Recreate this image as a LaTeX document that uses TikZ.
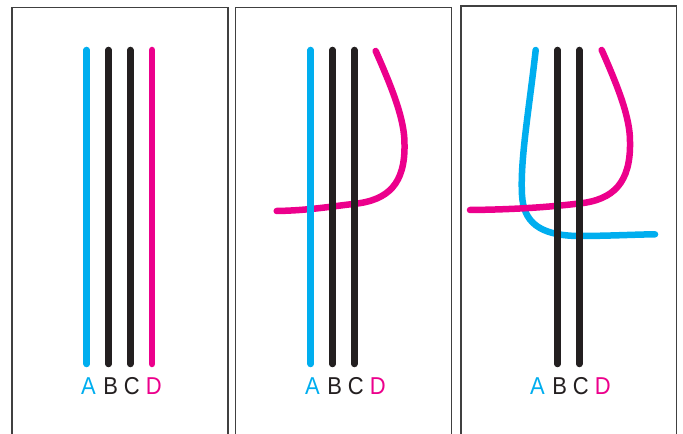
\documentclass[tikz,border=0pt]{standalone}
\usepackage{fontspec}
\setmainfont{Liberation Sans}
\definecolor{cyanA}{HTML}{00AEEF}
\definecolor{magD}{HTML}{EC008C}
\definecolor{blkB}{HTML}{231F20}
\definecolor{frameC}{HTML}{404040}
\begin{document}
\begin{tikzpicture}[x=1bp,y=-1bp,
  strand/.style={line width=6.5bp,line cap=round},
  frame/.style={draw=frameC,line width=1.1bp},
  lbl/.style={anchor=base,inner sep=0pt,font=\fontsize{24.5}{24.5}\selectfont}]
\useasboundingbox[fill=white] (0,0) rectangle (683,434);
\begin{scope}
\clip (0,0) rectangle (683,434);
% frames
\draw[frame] (12,440) -- (12,7.3) -- (228,7.3) -- (228,440);
\draw[frame] (235.7,440) -- (235.7,7.3) -- (451.7,7.3) -- (451.7,440);
\draw[frame] (461,440) -- (461,6) -- (676.5,6) -- (676.5,440);
\end{scope}

% ---------- panel 1 ----------
\begin{scope}
\coordinate (a1t) at (86.7,50); \coordinate (a1b) at (86.7,364);
\coordinate (b1t) at (108.5,50); \coordinate (b1b) at (108.5,364);
\coordinate (c1t) at (130.3,50); \coordinate (c1b) at (130.3,364);
\coordinate (d1t) at (152.1,50); \coordinate (d1b) at (152.1,364);
\draw[strand,cyanA] (a1t) -- (a1b);
\draw[strand,blkB] (b1t) -- (b1b);
\draw[strand,blkB] (c1t) -- (c1b);
\draw[strand,magD] (d1t) -- (d1b);
\node[lbl,cyanA] (la1) at (88.4,394.5) {\scalebox{0.9}[1]{A}};
\node[lbl,blkB] (lb1) at (110.8,394.5) {\scalebox{0.9}[1]{B}};
\node[lbl,blkB] (lc1) at (131.8,394.5) {\scalebox{0.9}[1]{C}};
\node[lbl,magD] (ld1) at (153.8,394.5) {\scalebox{0.9}[1]{D}};
\end{scope}

% ---------- panel 2 ----------
\begin{scope}[xshift=224bp]
\coordinate (d2t) at (151.7,51);
\coordinate (d2m) at (180.5,145);
\coordinate (d2n) at (129.3,204);
\coordinate (d2e) at (52.7,211);
\draw[strand,magD] (d2t) .. controls (168,88) and (181,120) .. (d2m)
  .. controls (181,183) and (165,200.5) .. (d2n)
  .. controls (110,206) and (85,210.5) .. (d2e);
\coordinate (a2t) at (86.7,50); \coordinate (a2b) at (86.7,364);
\coordinate (b2t) at (108.5,50); \coordinate (b2b) at (108.5,364);
\coordinate (c2t) at (130.3,50); \coordinate (c2b) at (130.3,364);
\draw[strand,cyanA] (a2t) -- (a2b);
\draw[strand,blkB] (b2t) -- (b2b);
\draw[strand,blkB] (c2t) -- (c2b);
\node[lbl,cyanA] (la2) at (88.4,394.5) {\scalebox{0.9}[1]{A}};
\node[lbl,blkB] (lb2) at (110.8,394.5) {\scalebox{0.9}[1]{B}};
\node[lbl,blkB] (lc2) at (131.8,394.5) {\scalebox{0.9}[1]{C}};
\node[lbl,magD] (ld2) at (153.8,394.5) {\scalebox{0.9}[1]{D}};
\end{scope}

% ---------- panel 3 ----------
\begin{scope}[xshift=449bp]
\coordinate (a3t) at (86.7,50);
\coordinate (a3m) at (73,195);
\coordinate (a3n) at (127.7,236);
\coordinate (a3e) at (206,234.3);
\draw[strand,cyanA] (a3t) .. controls (80,110) and (71,160) .. (a3m)
  .. controls (74.5,222) and (90,235) .. (a3n)
  .. controls (160,236) and (185,234.5) .. (a3e);
\coordinate (d3t) at (152.7,50);
\coordinate (d3m) at (181,143);
\coordinate (d3n) at (130,203.5);
\coordinate (d3e) at (21,210);
\draw[strand,magD] (d3t) .. controls (169,87) and (181.5,118) .. (d3m)
  .. controls (181.5,182) and (165,200) .. (d3n)
  .. controls (105,206.5) and (70,209.5) .. (d3e);
\coordinate (b3t) at (108.5,50); \coordinate (b3b) at (108.5,364);
\coordinate (c3t) at (130.3,50); \coordinate (c3b) at (130.3,364);
\draw[strand,blkB] (b3t) -- (b3b);
\draw[strand,blkB] (c3t) -- (c3b);
\node[lbl,cyanA] (la3) at (88.4,394.5) {\scalebox{0.9}[1]{A}};
\node[lbl,blkB] (lb3) at (110.8,394.5) {\scalebox{0.9}[1]{B}};
\node[lbl,blkB] (lc3) at (131.8,394.5) {\scalebox{0.9}[1]{C}};
\node[lbl,magD] (ld3) at (153.8,394.5) {\scalebox{0.9}[1]{D}};
\end{scope}
\end{tikzpicture}
\end{document}
